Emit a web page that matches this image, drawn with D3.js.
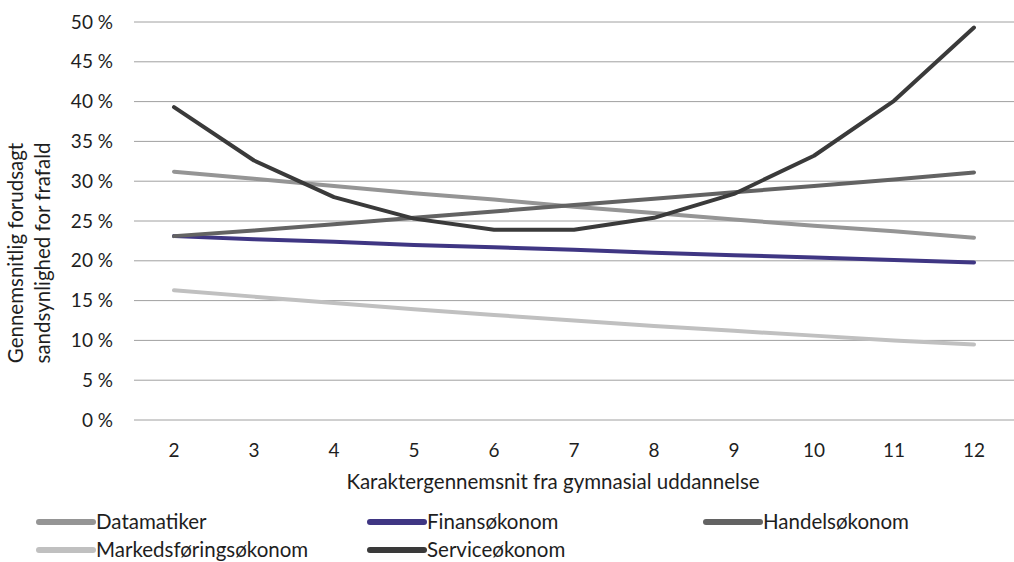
<!DOCTYPE html>
<html>
<head>
<meta charset="utf-8">
<script src="https://cdn.jsdelivr.net/npm/d3@7"></script>
<style>
  body { margin: 0; background: #fff; }
  svg text { font-family: Lato, "Noto Sans", sans-serif; fill: #1e1e1e; }
</style>
</head>
<body>
<script>
// Data (percent)
var grades = [2, 3, 4, 5, 6, 7, 8, 9, 10, 11, 12];
var seriesNames = ['Datamatiker', 'Finansøkonom', 'Handelsøkonom',
                   'Markedsføringsøkonom', 'Serviceøkonom'];
var datamatiker = [31.2, 30.3, 29.4, 28.5, 27.7, 26.8, 26.0, 25.2, 24.4, 23.7, 22.9];
var finans = [23.1, 22.7, 22.4, 22.0, 21.7, 21.4, 21.0, 20.7, 20.4, 20.1, 19.8];
var handel = [23.1, 23.8, 24.6, 25.4, 26.2, 27.0, 27.8, 28.6, 29.4, 30.2, 31.1];
var markeds = [16.3, 15.5, 14.7, 13.9, 13.2, 12.5, 11.8, 11.2, 10.6, 10.0, 9.5];
var service = [39.3, 32.6, 28.0, 25.3, 23.9, 23.9, 25.4, 28.4, 33.2, 40.1, 49.3];
var yTicks = [0, 5, 10, 15, 20, 25, 30, 35, 40, 45, 50];
var colors = ['#959595', '#3f3683', '#636363', '#c0c0c0', '#3a3a3a'];

var allSeries = [datamatiker, finans, handel, markeds, service];

var w = 1014,
    h = 562;

var svg = d3.select('body')
            .append('svg')
            .attr('width', w)
            .attr('height', h);

var xScale = d3.scaleBand()
               .domain(grades)
               .range([134, 1014]);

var yScale = d3.scaleLinear()
               .domain([0, 50])
               .range([420, 22]);

// gridlines
svg.selectAll('line.grid')
   .data(yTicks)
   .enter()
   .append('line')
   .attr('class', 'grid')
   .attr('x1', 134)
   .attr('x2', 1014)
   .attr('y1', function(d) { return yScale(d); })
   .attr('y2', function(d) { return yScale(d); })
   .attr('stroke', '#a0a0a0')
   .attr('stroke-width', 1);

// y tick labels
svg.selectAll('text.ytick')
   .data(yTicks)
   .enter()
   .append('text')
   .attr('class', 'ytick')
   .attr('x', 113)
   .attr('y', function(d) { return yScale(d); })
   .attr('dy', '0.35em')
   .attr('text-anchor', 'end')
   .attr('font-size', '19px')
   .text(function(d) { return d + '\u00a0%'; });

// x tick labels
svg.selectAll('text.xtick')
   .data(grades)
   .enter()
   .append('text')
   .attr('class', 'xtick')
   .attr('x', function(d) { return xScale(d) + xScale.bandwidth() / 2; })
   .attr('y', 457)
   .attr('text-anchor', 'middle')
   .attr('font-size', '19px')
   .text(function(d) { return d; });

// axis titles
svg.append('text')
   .attr('x', 553)
   .attr('y', 489)
   .attr('text-anchor', 'middle')
   .attr('font-size', '20.5px')
   .text('Karaktergennemsnit fra gymnasial uddannelse');

var yTitle = svg.append('text')
   .attr('transform', 'translate(0,253) rotate(-90)')
   .attr('text-anchor', 'middle')
   .attr('font-size', '20.5px');
yTitle.append('tspan').attr('x', 0).attr('y', 23).text('Gennemsnitlig forudsagt');
yTitle.append('tspan').attr('x', 0).attr('y', 50).text('sandsynlighed for frafald');

// lines
var line = d3.line()
             .x(function(d, i) { return xScale(grades[i]) + xScale.bandwidth() / 2; })
             .y(function(d) { return yScale(d); });

svg.selectAll('path.series')
   .data(allSeries)
   .enter()
   .append('path')
   .attr('class', 'series')
   .attr('d', line)
   .attr('fill', 'none')
   .attr('stroke', function(d, i) { return colors[i]; })
   .attr('stroke-width', 4)
   .attr('stroke-linecap', 'round')
   .attr('stroke-linejoin', 'round');

// legend
var legendPos = [[36, 522], [367, 522], [703, 522], [36, 550], [367, 550]];
var legend = svg.selectAll('g.legend')
   .data(seriesNames)
   .enter()
   .append('g')
   .attr('class', 'legend')
   .attr('transform', function(d, i) {
      return 'translate(' + legendPos[i][0] + ',' + legendPos[i][1] + ')';
   });

legend.append('line')
      .attr('x1', 3)
      .attr('x2', 57)
      .attr('y1', 0)
      .attr('y2', 0)
      .attr('stroke', function(d, i) { return colors[i]; })
      .attr('stroke-width', 6)
      .attr('stroke-linecap', 'round');

legend.append('text')
      .attr('x', 60)
      .attr('y', 0)
      .attr('dy', '0.35em')
      .attr('font-size', '20.5px')
      .text(function(d) { return d; });
</script>
</body>
</html>
